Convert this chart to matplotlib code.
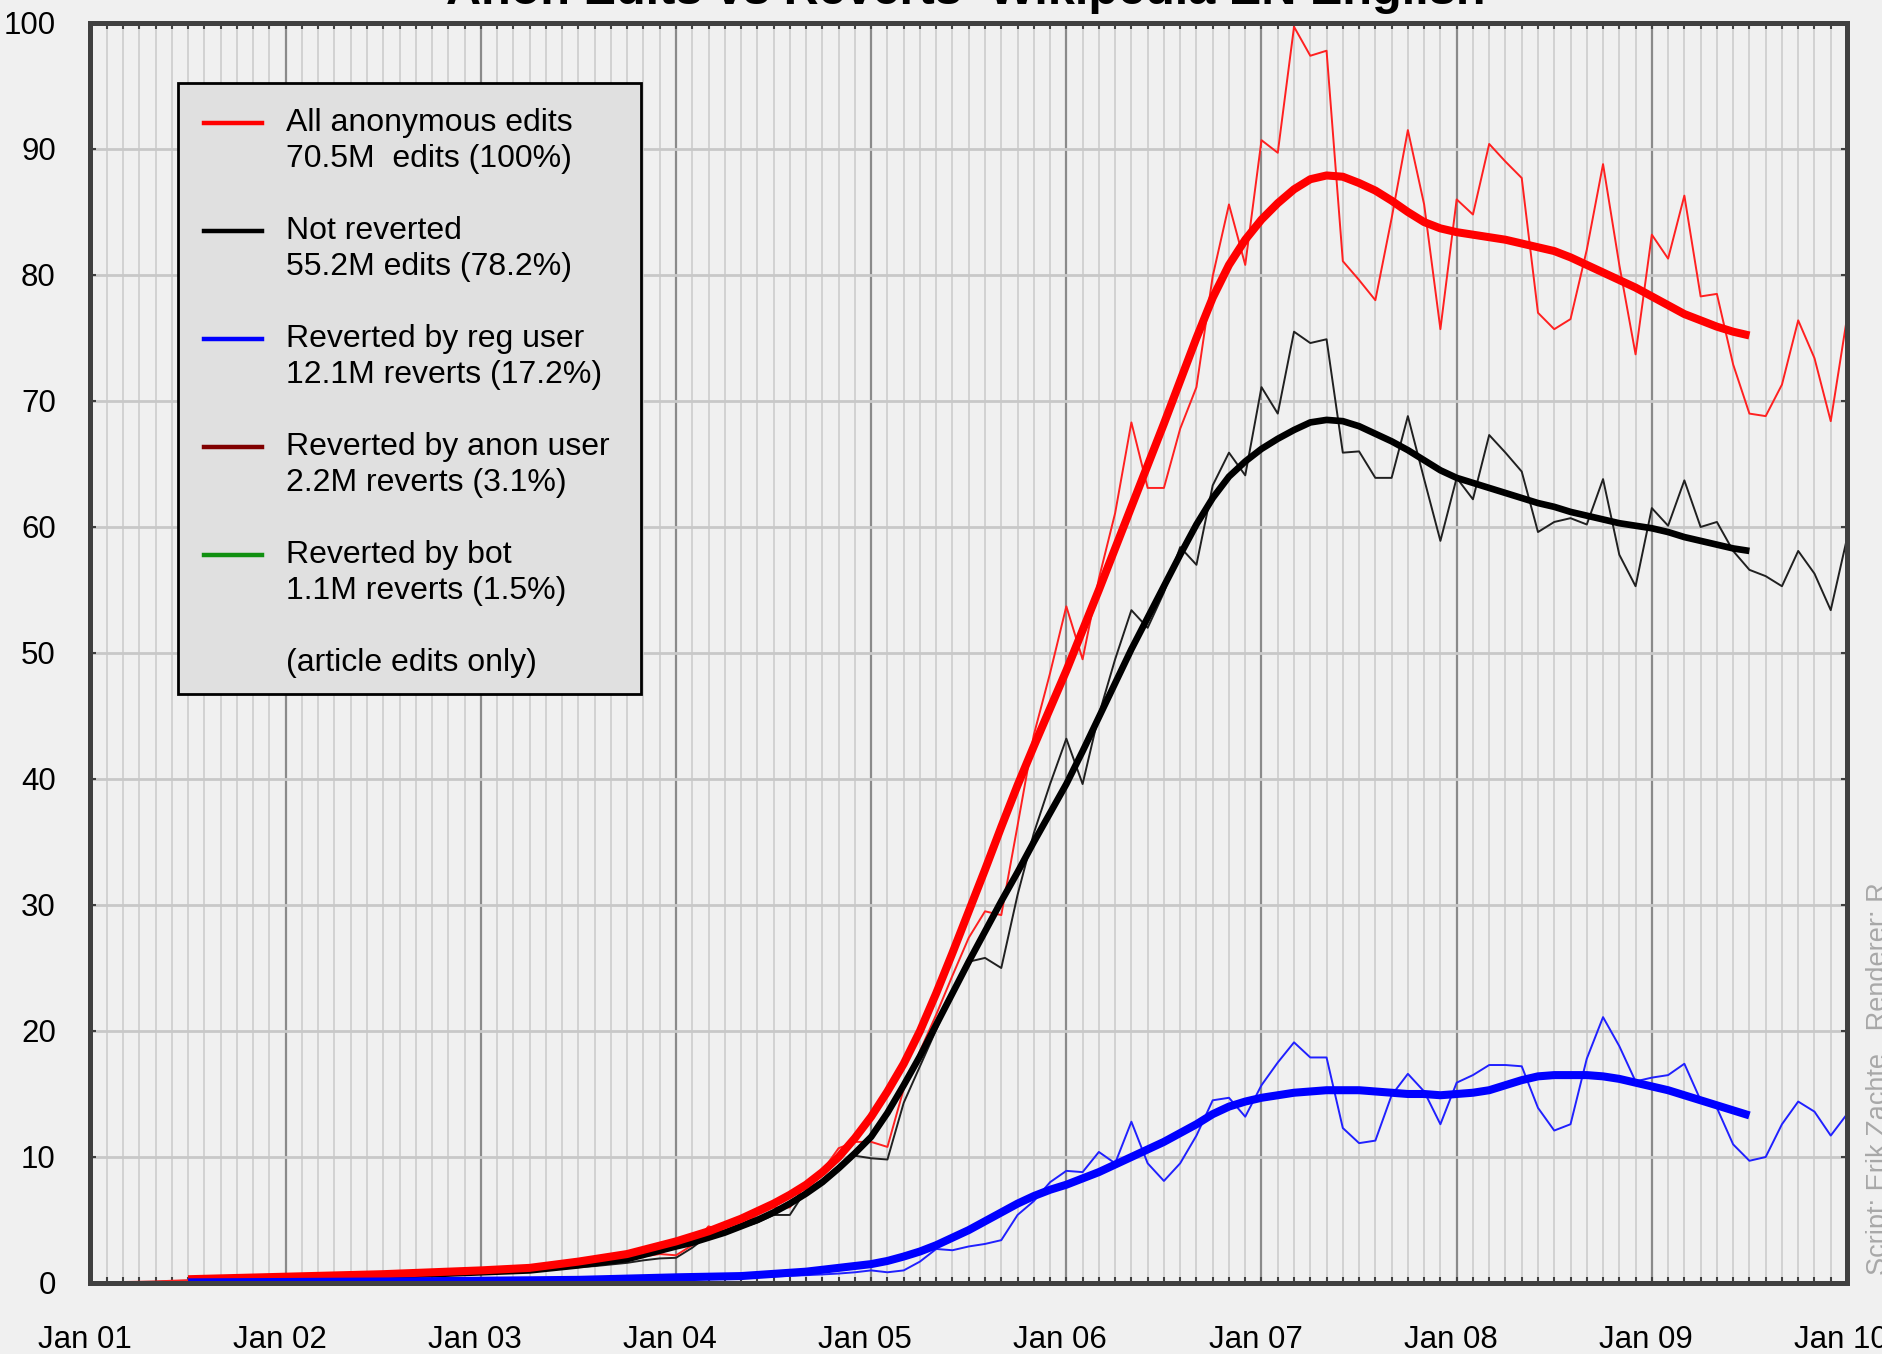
import numpy as np
import matplotlib.pyplot as plt
from matplotlib.patches import Rectangle
from matplotlib.lines import Line2D
from matplotlib.transforms import ScaledTranslation

plt.rcParams['font.family'] = ['Liberation Sans', 'DejaVu Sans']

W, H = 1883, 1354

year_labels = ['Jan 01', 'Jan 02', 'Jan 03', 'Jan 04', 'Jan 05',
               'Jan 06', 'Jan 07', 'Jan 08', 'Jan 09', 'Jan 10']

# monthly values, Jan 2001 .. Jan 2010
all_anon = [0.05, 0.06, 0.08, 0.1, 0.12, 0.18, 0.22, 0.25, 0.3, 0.34, 0.38, 0.42,
            0.45, 0.5, 0.55, 0.58, 0.62, 0.68, 0.72, 0.76, 0.8, 0.85, 0.9, 0.95,
            1.0, 1.05, 1.1, 1.18, 1.25, 1.35, 1.5, 1.6, 1.75, 1.9, 2.1, 2.3,
            2.2, 3.0, 4.5, 4.0, 4.6, 5.4, 6.0, 6.0, 7.9, 8.9, 10.7, 11.2,
            11.2, 10.8, 15.4, 18.4, 21.3, 24.4, 27.4, 29.5, 29.2, 36.3, 43.5, 48.4,
            53.7, 49.5, 55.9, 61.1, 68.3, 63.1, 63.1, 67.8, 71.1, 79.9, 85.6, 80.8,
            90.7, 89.7, 99.7, 97.4, 97.8, 81.1, 79.6, 78.0, 84.5, 91.5, 85.6, 75.7,
            86.0, 84.8, 90.4, 89.0, 87.7, 77.0, 75.7, 76.5, 82.0, 88.8, 80.8, 73.7,
            83.2, 81.3, 86.3, 78.3, 78.5, 72.9, 69.0, 68.8, 71.3, 76.4, 73.4, 68.4,
            76.6]
not_reverted = [0.04, 0.05, 0.07, 0.08, 0.1, 0.15, 0.18, 0.2, 0.25, 0.28, 0.32, 0.35,
                0.38, 0.42, 0.46, 0.49, 0.52, 0.57, 0.6, 0.64, 0.67, 0.71, 0.75, 0.8,
                0.84, 0.88, 0.92, 0.99, 1.05, 1.13, 1.26, 1.34, 1.47, 1.6, 1.8, 1.95,
                2.0, 2.8, 3.8, 4.0, 4.4, 4.8, 5.4, 5.4, 7.4, 8.2, 9.3, 10.1,
                9.9, 9.8, 14.3, 17.2, 20.1, 23.0, 25.5, 25.8, 25.0, 30.8, 35.7, 39.6,
                43.2, 39.6, 45.1, 49.5, 53.4, 52.0, 54.8, 58.4, 57.0, 63.3, 65.9, 64.1,
                71.1, 69.0, 75.5, 74.6, 74.9, 65.9, 66.0, 63.9, 63.9, 68.8, 63.8, 58.9,
                63.9, 62.2, 67.3, 65.9, 64.4, 59.6, 60.4, 60.7, 60.2, 63.8, 57.8, 55.3,
                61.5, 60.1, 63.7, 60.0, 60.4, 58.1, 56.6, 56.1, 55.3, 58.1, 56.3, 53.4,
                59.1]
rev_reg = [0.0, 0.0, 0.0, 0.0, 0.01, 0.02, 0.02, 0.03, 0.03, 0.04, 0.04, 0.05,
           0.05, 0.06, 0.06, 0.07, 0.08, 0.08, 0.09, 0.1, 0.1, 0.11, 0.12, 0.12,
           0.13, 0.14, 0.15, 0.16, 0.17, 0.18, 0.2, 0.21, 0.23, 0.25, 0.27, 0.29,
           0.3, 0.33, 0.36, 0.4, 0.43, 0.47, 0.52, 0.57, 0.62, 0.68, 0.75, 0.85,
           1.0, 0.85, 1.0, 1.7, 2.7, 2.6, 2.9, 3.1, 3.4, 5.4, 6.5, 8.0,
           8.9, 8.8, 10.4, 9.5, 12.8, 9.5, 8.1, 9.5, 11.7, 14.5, 14.7, 13.2,
           15.7, 17.5, 19.1, 17.9, 17.9, 12.3, 11.1, 11.3, 14.9, 16.6, 15.2, 12.6,
           15.9, 16.5, 17.3, 17.3, 17.2, 13.9, 12.1, 12.6, 17.8, 21.1, 18.8, 16.0,
           16.3, 16.5, 17.4, 14.5, 13.9, 11.0, 9.7, 10.0, 12.6, 14.4, 13.6, 11.7,
           13.4]

# smoothed trend lines: month index and value
trend_m = [6, 9, 12, 15, 18, 21, 24, 27, 30, 33] + list(range(36, 103))
anon_trend = [0.3, 0.4, 0.5, 0.6, 0.7, 0.85, 1.0, 1.2, 1.7, 2.3,
              3.3, 3.7, 4.1, 4.6, 5.1, 5.7, 6.3, 7.0, 7.8, 8.8, 10.0, 11.5,
              13.2, 15.2, 17.4, 20.0, 23.0, 26.2, 29.5, 32.8, 36.2, 39.5, 42.6, 45.6,
              48.6, 51.8, 55.0, 58.3, 61.6, 64.9, 68.2, 71.6, 75.0, 78.2, 80.8, 82.8,
              84.4, 85.7, 86.8, 87.6, 87.9, 87.8, 87.3, 86.7, 85.9, 85.0, 84.2, 83.7,
              83.4, 83.2, 83.0, 82.8, 82.5, 82.2, 81.9, 81.4, 80.8, 80.2, 79.6, 79.0,
              78.3, 77.6, 76.9, 76.4, 75.9, 75.5, 75.2]
notrev_trend = [0.25, 0.33, 0.42, 0.5, 0.58, 0.7, 0.85, 1.0, 1.4, 1.9,
                2.9, 3.2, 3.6, 4.0, 4.5, 5.0, 5.6, 6.3, 7.1, 8.0, 9.1, 10.3,
                11.6, 13.5, 15.7, 18.0, 20.5, 23.0, 25.5, 27.9, 30.3, 32.6, 35.0, 37.3,
                39.6, 42.2, 44.9, 47.6, 50.3, 52.8, 55.3, 57.8, 60.2, 62.3, 64.0, 65.2,
                66.2, 67.0, 67.7, 68.3, 68.5, 68.4, 68.0, 67.4, 66.8, 66.1, 65.3, 64.5,
                63.9, 63.5, 63.1, 62.7, 62.3, 61.9, 61.6, 61.2, 60.9, 60.6, 60.3, 60.1,
                59.9, 59.6, 59.2, 58.9, 58.6, 58.3, 58.1]
reg_trend_m = [6, 12, 18, 24, 30, 36, 40] + list(range(44, 103))
reg_trend = [0.05, 0.08, 0.12, 0.18, 0.25, 0.45, 0.55,
             0.9, 1.05, 1.2, 1.35, 1.5, 1.75, 2.1, 2.5, 3.0, 3.6, 4.2, 4.9, 5.6, 6.3,
             6.9, 7.4, 7.8, 8.3, 8.8, 9.4, 10.0, 10.6, 11.2, 11.9, 12.6, 13.4, 14.0, 14.4,
             14.7, 14.9, 15.1, 15.2, 15.3, 15.3, 15.3, 15.2, 15.1, 15.0, 15.0, 14.9,
             15.0, 15.1, 15.3, 15.7, 16.1, 16.4, 16.5, 16.5, 16.5, 16.4, 16.2, 15.9,
             15.6, 15.3, 14.9, 14.5, 14.1, 13.7, 13.3]

legend_rows = [('#ff0000', 'All anonymous edits', '70.5M  edits (100%)'),
               ('#000000', 'Not reverted', '55.2M edits (78.2%)'),
               ('#0000ff', 'Reverted by reg user', '12.1M reverts (17.2%)'),
               ('#800000', 'Reverted by anon user', '2.2M reverts (3.1%)'),
               ('#109010', 'Reverted by bot', '1.1M reverts (1.5%)')]

bg = '#f0f0f0'
fig = plt.figure(figsize=(W / 100, H / 100), dpi=100, facecolor=bg)
ax = fig.add_axes([90.5 / W, 1 - 1283 / H, (1847 - 90.5) / W, (1283 - 23) / H])
ax.set_facecolor(bg)

months = np.arange(len(all_anon))
ax.plot(months, not_reverted, color='#202020', lw=1.4)
ax.plot(months, all_anon, color='#ff2020', lw=1.4)
ax.plot(months, rev_reg, color='#2020ff', lw=1.4)
ax.plot(trend_m, notrev_trend, color='black', lw=4.8, solid_capstyle='butt')
ax.plot(trend_m, anon_trend, color='#ff0000', lw=5.8, solid_capstyle='butt')
ax.plot(reg_trend_m, reg_trend, color='#0000ff', lw=5.8, solid_capstyle='butt')

ax.set_xlim(0, 108)
ax.set_ylim(0, 100)
ax.set_xticks(np.arange(0, 109, 12))
ax.set_xticks(np.arange(0, 109, 1), minor=True)
ax.set_xticklabels(year_labels)
ax.set_yticks(np.arange(0, 101, 10))
ax.set_axisbelow(True)
ax.grid(which='minor', axis='x', color='#d2d2d2', lw=1.4)
ax.grid(which='major', axis='x', color='#8a8a8a', lw=1.6)
ax.grid(which='major', axis='y', color='#c8c8c8', lw=2.0)

ax.tick_params(which='both', direction='in', top=True, right=True,
               color='#404040', width=1.5, length=4, labelsize=22.5)
ax.tick_params(axis='x', which='major', pad=30)
ax.tick_params(axis='y', which='major', pad=25)
for lbl in ax.get_xticklabels():
    lbl.set_transform(lbl.get_transform() + ScaledTranslation(-0.06, 0, fig.dpi_scale_trans))
for s in ax.spines.values():
    s.set_color('#404040')
    s.set_linewidth(3.6)

# legend box
def fy(y):
    return 1 - y / H

fig.add_artist(Rectangle((178 / W, fy(694)), (641 - 178) / W, (694 - 83) / H,
                         transform=fig.transFigure, facecolor='#e0e0e0',
                         edgecolor='black', lw=2))
for i, (c, l1, l2) in enumerate(legend_rows):
    y1 = 123 + 108 * i
    fig.add_artist(Line2D([204 / W, 262 / W], [fy(y1), fy(y1)],
                          transform=fig.transFigure, color=c, lw=3.2))
    fig.text(286 / W, fy(y1), l1, va='center', ha='left', fontsize=23)
    fig.text(286 / W, fy(y1 + 36), l2, va='center', ha='left', fontsize=23)
fig.text(286 / W, fy(663), '(article edits only)', va='center', ha='left', fontsize=23)

# title strip, cut off at the top edge
fig.text(966 / W, fy(4), 'Anon Edits vs Reverts  Wikipedia EN English',
         ha='center', va='baseline', fontsize=35, fontweight='bold')
fig.text(90 / W, fy(-3), 'Wikistats', ha='left', va='baseline', fontsize=24, color='#a0a0a0')
fig.text(1837 / W, fy(-3), '2010-01-31', ha='right', va='baseline', fontsize=24, color='#a0a0a0')

fig.text(1866 / W, fy(1275), 'Script: Erik Zachte.  Renderer: R', rotation=90,
         ha='left', va='bottom', fontsize=19.5, color='#a8a8a8')

fig.savefig('out.png', dpi=100, facecolor=bg)
